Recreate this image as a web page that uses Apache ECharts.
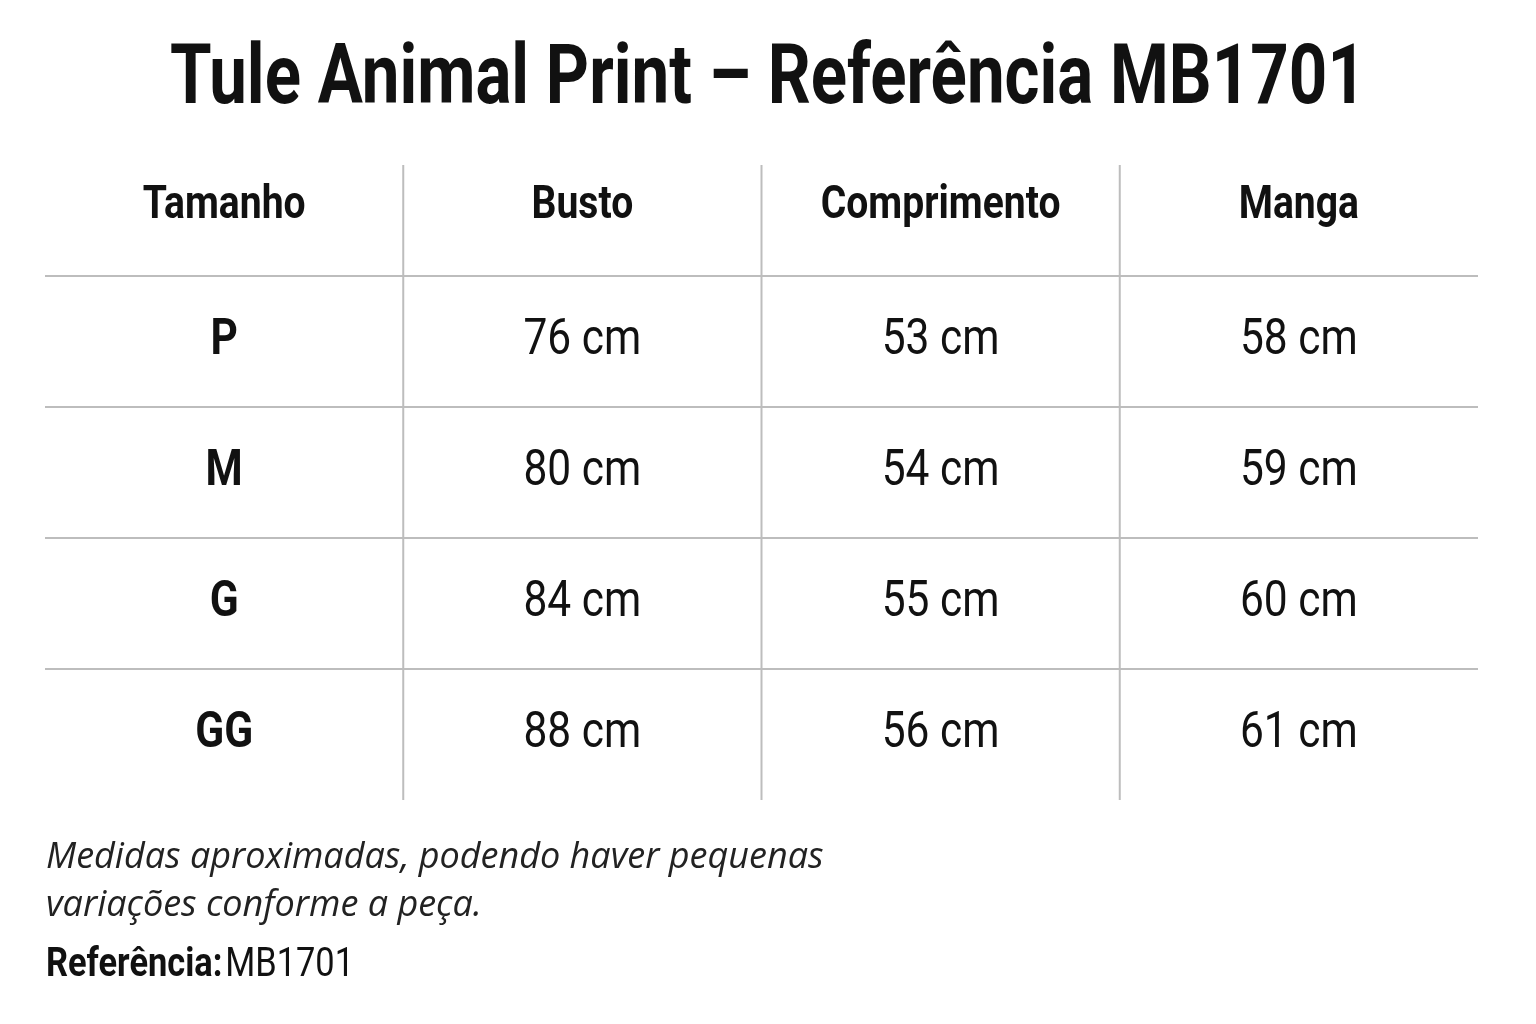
<!DOCTYPE html>
<html><head><meta charset="utf-8">
<script src="https://cdn.jsdelivr.net/npm/echarts@6/dist/echarts.min.js"></script>
<style>html,body{margin:0;background:#fff}#c{width:1536px;height:1024px}</style>
</head><body><div id="c"></div>
<script>
const title = 'Tule Animal Print – Referência MB1701';
const columns = ['Tamanho', 'Busto', 'Comprimento', 'Manga'];
const sizes = ['P', 'M', 'G', 'GG'];
const busto = [76, 80, 84, 88];
const comprimento = [53, 54, 55, 56];
const manga = [58, 59, 60, 61];
const unit = 'cm';
const note = ['Medidas aproximadas, podendo haver pequenas', 'variações conforme a peça.'];
const refLabel = 'Referência:';
const refValue = 'MB1701';

const rows = ['header'].concat(sizes);
const cells = [];
columns.forEach((c, i) => cells.push([i, 0, c, 1]));
sizes.forEach((s, r) => {
  cells.push([0, r + 1, s, 1]);
  cells.push([1, r + 1, busto[r] + ' ' + unit, 0]);
  cells.push([2, r + 1, comprimento[r] + ' ' + unit, 0]);
  cells.push([3, r + 1, manga[r] + ' ' + unit, 0]);
});
const FONT = '"Roboto",sans-serif';
const chart = echarts.init(document.getElementById('c'));
chart.setOption({
  backgroundColor: '#fff',
  grid: { left: 45, right: 58, top: 145, bottom: 224 },
  xAxis: { type: 'category', data: columns, show: false },
  yAxis: { type: 'category', data: rows, inverse: true, show: false },
  series: [{
    type: 'custom',
    data: cells,
    renderItem: (params, api) => {
      const col = api.value(0), row = api.value(1);
      const p = api.coord([col, row]);
      const sz = api.size([1, 1]);
      const item = cells[params.dataIndex];
      const children = [];
      const x0 = p[0] - sz[0] / 2, y0 = p[1] - sz[1] / 2;
      if (row >= 1) children.push({ type: 'line', shape: { x1: x0, y1: y0, x2: x0 + sz[0], y2: y0 },
        style: { stroke: '#bdbdbd', lineWidth: 2 } });
      if (col >= 1) children.push({ type: 'line', shape: { x1: x0, y1: y0 + (row === 0 ? 20 : 0), x2: x0, y2: y0 + sz[1] },
        style: { stroke: '#bdbdbd', lineWidth: 2 } });
      children.push({ type: 'text', x: p[0], y: p[1] + (row === 0 ? -4 : 0), scaleX: 0.85, style: {
        text: item[2], align: 'center', verticalAlign: 'middle',
        fontFamily: FONT, fontSize: row === 0 ? 46 : 50,
        fontWeight: item[3] ? 'bold' : 'normal', fill: '#111' } });
      return { type: 'group', children };
    }
  }],
  graphic: [
    { type: 'text', x: 768, y: 82, scaleX: 0.8, style: { text: title, align: 'center', verticalAlign: 'middle',
      fontFamily: FONT, fontSize: 84, fontWeight: 'bold', fill: '#111' } },
    { type: 'text', left: 46, top: 834, style: { text: note.join('\n'), lineHeight: 48,
      fontFamily: '"Open Sans",sans-serif', fontStyle: 'italic', fontSize: 36, fill: '#222' } },
    { type: 'text', x: 46, y: 966, scaleX: 0.86, style: {
      text: '{b|' + refLabel + '} {n|' + refValue + '}', verticalAlign: 'middle',
      rich: { b: { fontFamily: FONT, fontWeight: 'bold', fontSize: 40, fill: '#111' },
              n: { fontFamily: FONT, fontSize: 40, fill: '#111' } } } }
  ]
});
</script></body></html>
